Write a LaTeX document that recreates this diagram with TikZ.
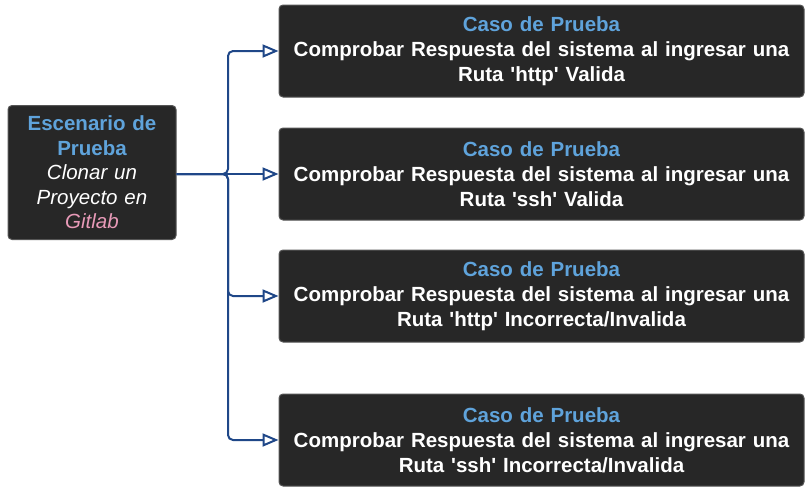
\documentclass[tikz,border=0pt]{standalone}
\usepackage{fontspec}
\defaultfontfeatures{Ligatures=TeXOff}
\setmainfont{Liberation Sans}[Ligatures=TeXOff]
\usetikzlibrary{arrows.meta}
\definecolor{boxfill}{HTML}{272727}
\definecolor{boxedge}{HTML}{555555}
\definecolor{headblue}{HTML}{5FA3DB}
\definecolor{linkpink}{HTML}{E89AB8}
\definecolor{navy}{HTML}{1F4788}
\tikzset{
  darkbox/.style={draw=boxedge, line width=1pt, fill=boxfill, rounded corners=4pt,
    text=white, align=center, inner sep=0pt,
    font=\fontsize{20.5}{25}\selectfont},
  casebox/.style={darkbox, minimum width=525pt, minimum height=92pt, text width=515pt},
  scenebox/.style={darkbox, minimum width=168pt, minimum height=134pt, text width=160pt,
    font=\fontsize{20.5}{24.5}\selectfont},
  link/.style={draw=navy, line width=2pt, rounded corners=5pt,
    -{Triangle[open, length=16pt, width=13pt, line width=2pt]}},
}
\newcommand{\casehead}{\textcolor{headblue}{\bfseries Caso de Prueba}}
\begin{document}
\begin{tikzpicture}[x=1pt,y=-1pt]
\useasboundingbox (0,0) rectangle (807,496);
\node[scenebox] (L) at (92,172.5) {\textcolor{headblue}{\bfseries Escenario de}\\\textcolor{headblue}{\bfseries Prueba}\\\itshape Clonar un\\\itshape Proyecto en\\\itshape\textcolor{linkpink}{Gitlab}};
\node[casebox] (R1) at (541.5,51) {\casehead\\\bfseries Comprobar Respuesta del sistema al ingresar una\\\bfseries Ruta 'http' Valida};
\node[casebox] (R2) at (541.5,174) {\casehead\\\bfseries Comprobar Respuesta del sistema al ingresar una\\\bfseries Ruta 'ssh' Valida};
\node[casebox] (R3) at (541.5,296) {\casehead\\\bfseries Comprobar Respuesta del sistema al ingresar una\\\bfseries Ruta 'http' Incorrecta/Invalida};
\node[casebox] (R4) at (541.5,440) {\casehead\\\bfseries Comprobar Respuesta del sistema al ingresar una\\\bfseries Ruta 'ssh' Incorrecta/Invalida};
\coordinate (T) at (228,174);
\draw[link] (L.east |- T) -- (T) |- (R1.west);
\draw[link] (L.east |- T) -- (R2.west);
\draw[link] (L.east |- T) -- (T) |- (R3.west);
\draw[link] (L.east |- T) -- (T) |- (R4.west);
\end{tikzpicture}
\end{document}
